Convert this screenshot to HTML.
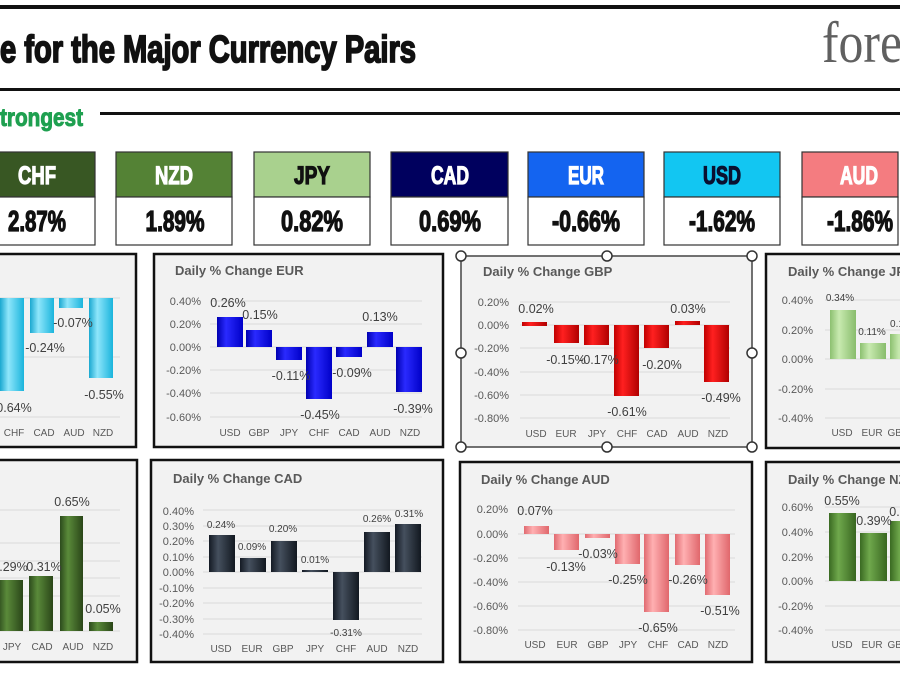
<!DOCTYPE html>
<html><head><meta charset="utf-8"><style>
html,body{margin:0;padding:0;background:#fff;width:900px;height:676px;overflow:hidden}
svg{display:block}
.t{font-family:"Liberation Sans",sans-serif;font-weight:bold;font-size:13px;fill:#595959}
.y{font-family:"Liberation Sans",sans-serif;font-size:11px;fill:#595959;text-anchor:end}
.x{font-family:"Liberation Sans",sans-serif;font-size:10px;fill:#595959;text-anchor:middle}
.l{font-family:"Liberation Sans",sans-serif;font-size:12.5px;fill:#404040;text-anchor:middle}
.s{font-family:"Liberation Sans",sans-serif;font-size:10px;fill:#404040;text-anchor:middle}
.h{font-family:"Liberation Sans Narrow","Liberation Sans",sans-serif;font-weight:bold;font-size:25px;text-anchor:middle;stroke-width:1.2}
.v{font-family:"Liberation Sans Narrow","Liberation Sans",sans-serif;font-weight:bold;font-size:29px;fill:#111;stroke:#111;stroke-width:1.3;text-anchor:middle}
.g{stroke:#d9d9d9;stroke-width:1}
.p{fill:#f2f2f2;stroke:#111;stroke-width:2.5}
.hd{fill:#fff;stroke:#333;stroke-width:1.5}
</style></head><body>
<svg width="900" height="676" viewBox="0 0 900 676" xmlns="http://www.w3.org/2000/svg">
<defs>
<linearGradient id="cy" x1="0" x2="1"><stop offset="0" stop-color="#1aa8d0"/><stop offset=".35" stop-color="#8ee6fb"/><stop offset="1" stop-color="#1ab4dc"/></linearGradient>
<linearGradient id="bl" x1="0" x2="1"><stop offset="0" stop-color="#0000b0"/><stop offset=".35" stop-color="#2a2aff"/><stop offset="1" stop-color="#0000c8"/></linearGradient>
<linearGradient id="rd" x1="0" x2="1"><stop offset="0" stop-color="#c00000"/><stop offset=".35" stop-color="#ff2020"/><stop offset="1" stop-color="#b00000"/></linearGradient>
<linearGradient id="lg" x1="0" x2="1"><stop offset="0" stop-color="#8cc070"/><stop offset=".35" stop-color="#c8eab0"/><stop offset="1" stop-color="#88bc6c"/></linearGradient>
<linearGradient id="dg" x1="0" x2="1"><stop offset="0" stop-color="#2c4a1c"/><stop offset=".35" stop-color="#5a8a3a"/><stop offset="1" stop-color="#2a4618"/></linearGradient>
<linearGradient id="nv" x1="0" x2="1"><stop offset="0" stop-color="#141a24"/><stop offset=".35" stop-color="#45505e"/><stop offset="1" stop-color="#121820"/></linearGradient>
<linearGradient id="pk" x1="0" x2="1"><stop offset="0" stop-color="#e06a70"/><stop offset=".35" stop-color="#ffb0b2"/><stop offset="1" stop-color="#e0676c"/></linearGradient>
<linearGradient id="mg" x1="0" x2="1"><stop offset="0" stop-color="#3a6a22"/><stop offset=".35" stop-color="#6fa84c"/><stop offset="1" stop-color="#386620"/></linearGradient>
</defs>

<!-- header -->
<rect x="0" y="5" width="900" height="4" fill="#111"/>
<rect x="0" y="88" width="900" height="3" fill="#111"/>
<text x="0" y="62" textLength="416" lengthAdjust="spacingAndGlyphs" style="font-family:'Liberation Sans Narrow','Liberation Sans',sans-serif;font-weight:bold;font-size:38px;fill:#111;stroke:#111;stroke-width:1.8">e for the Major Currency Pairs</text>
<text x="822" y="62" textLength="80" lengthAdjust="spacingAndGlyphs" style="font-family:'Liberation Serif',serif;font-size:58px;fill:#606060">fore</text>
<text x="0" y="126" textLength="83" lengthAdjust="spacingAndGlyphs" style="font-family:'Liberation Sans Narrow','Liberation Sans',sans-serif;font-weight:bold;font-size:25px;fill:#1fa050;stroke:#1fa050;stroke-width:1">trongest</text>
<rect x="100" y="112" width="800" height="3" fill="#111"/>

<!-- currency boxes -->
<g stroke="#333" stroke-width="1.2">
<rect x="-2" y="152" width="97" height="45" fill="#385723"/><rect x="-2" y="197" width="97" height="48" fill="#fff"/>
<rect x="116" y="152" width="116" height="45" fill="#548235"/><rect x="116" y="197" width="116" height="48" fill="#fff"/>
<rect x="254" y="152" width="116" height="45" fill="#a9d18e"/><rect x="254" y="197" width="116" height="48" fill="#fff"/>
<rect x="391" y="152" width="117" height="45" fill="#00005e"/><rect x="391" y="197" width="117" height="48" fill="#fff"/>
<rect x="528" y="152" width="116" height="45" fill="#1464f0"/><rect x="528" y="197" width="116" height="48" fill="#fff"/>
<rect x="664" y="152" width="116" height="45" fill="#12c6f2"/><rect x="664" y="197" width="116" height="48" fill="#fff"/>
<rect x="802" y="152" width="96" height="45" fill="#f47c80"/><rect x="802" y="197" width="96" height="48" fill="#fff"/>
</g>
<text class="h" x="37" y="184" textLength="38" lengthAdjust="spacingAndGlyphs" fill="#fff" stroke="#fff">CHF</text>
<text class="h" x="174" y="184" textLength="38" lengthAdjust="spacingAndGlyphs" fill="#fff" stroke="#fff">NZD</text>
<text class="h" x="312" y="184" textLength="36" lengthAdjust="spacingAndGlyphs" fill="#111" stroke="#111">JPY</text>
<text class="h" x="450" y="184" textLength="38" lengthAdjust="spacingAndGlyphs" fill="#fff" stroke="#fff">CAD</text>
<text class="h" x="586" y="184" textLength="36" lengthAdjust="spacingAndGlyphs" fill="#fff" stroke="#fff">EUR</text>
<text class="h" x="722" y="184" textLength="38" lengthAdjust="spacingAndGlyphs" fill="#0a1030" stroke="#0a1030">USD</text>
<text class="h" x="859" y="184" textLength="38" lengthAdjust="spacingAndGlyphs" fill="#fff" stroke="#fff">AUD</text>
<text class="v" x="37" y="231" textLength="58" lengthAdjust="spacingAndGlyphs">2.87%</text>
<text class="v" x="175" y="231" textLength="59" lengthAdjust="spacingAndGlyphs">1.89%</text>
<text class="v" x="312" y="231" textLength="62" lengthAdjust="spacingAndGlyphs">0.82%</text>
<text class="v" x="450" y="231" textLength="62" lengthAdjust="spacingAndGlyphs">0.69%</text>
<text class="v" x="586" y="231" textLength="68" lengthAdjust="spacingAndGlyphs">-0.66%</text>
<text class="v" x="722" y="231" textLength="66" lengthAdjust="spacingAndGlyphs">-1.62%</text>
<text class="v" x="860" y="231" textLength="66" lengthAdjust="spacingAndGlyphs">-1.86%</text>

<!-- Panel 1 (cyan) -->
<rect class="p" x="-3" y="254" width="139" height="193"/>
<line class="g" x1="0" y1="298" x2="120" y2="298"/><line class="g" x1="0" y1="357" x2="120" y2="357"/><line class="g" x1="0" y1="417" x2="120" y2="417"/>
<g fill="url(#cy)"><rect x="0" y="298" width="24" height="93"/><rect x="30" y="298" width="24" height="35"/><rect x="59" y="298" width="24" height="10"/><rect x="89" y="298" width="24" height="80"/></g>
<text class="l" x="14" y="412">0.64%</text><text class="l" x="45" y="352">-0.24%</text><text class="l" x="73" y="327">-0.07%</text><text class="l" x="104" y="399">-0.55%</text>
<text class="x" x="14" y="436">CHF</text><text class="x" x="44" y="436">CAD</text><text class="x" x="74" y="436">AUD</text><text class="x" x="103" y="436">NZD</text>

<!-- Panel EUR -->
<rect class="p" x="154" y="254" width="289" height="193"/>
<text class="t" x="175" y="275">Daily % Change EUR</text>
<g><line class="g" x1="210" y1="301" x2="422" y2="301"/><line class="g" x1="210" y1="324" x2="422" y2="324"/><line class="g" x1="210" y1="347" x2="422" y2="347"/><line class="g" x1="210" y1="370" x2="422" y2="370"/><line class="g" x1="210" y1="393" x2="422" y2="393"/><line class="g" x1="210" y1="417" x2="422" y2="417"/></g>
<text class="y" x="201" y="305">0.40%</text><text class="y" x="201" y="328">0.20%</text><text class="y" x="201" y="351">0.00%</text><text class="y" x="201" y="374">-0.20%</text><text class="y" x="201" y="397">-0.40%</text><text class="y" x="201" y="421">-0.60%</text>
<g fill="url(#bl)"><rect x="217" y="317" width="26" height="30"/><rect x="246" y="330" width="26" height="17"/><rect x="276" y="347" width="26" height="13"/><rect x="306" y="347" width="26" height="52"/><rect x="336" y="347" width="26" height="10"/><rect x="367" y="332" width="26" height="15"/><rect x="396" y="347" width="26" height="45"/></g>
<text class="l" x="228" y="307">0.26%</text><text class="l" x="260" y="319">0.15%</text><text class="l" x="291" y="380">-0.11%</text><text class="l" x="320" y="419">-0.45%</text><text class="l" x="352" y="377">-0.09%</text><text class="l" x="380" y="321">0.13%</text><text class="l" x="413" y="413">-0.39%</text>
<text class="x" x="230" y="436">USD</text><text class="x" x="259" y="436">GBP</text><text class="x" x="289" y="436">JPY</text><text class="x" x="319" y="436">CHF</text><text class="x" x="349" y="436">CAD</text><text class="x" x="380" y="436">AUD</text><text class="x" x="410" y="436">NZD</text>

<!-- Panel GBP (selected) -->
<rect x="461" y="256" width="291" height="191" fill="#f2f2f2" stroke="#444" stroke-width="1.5"/>
<text class="t" x="483" y="276">Daily % Change GBP</text>
<g><line class="g" x1="520" y1="302" x2="730" y2="302"/><line class="g" x1="520" y1="325" x2="730" y2="325"/><line class="g" x1="520" y1="348" x2="730" y2="348"/><line class="g" x1="520" y1="372" x2="730" y2="372"/><line class="g" x1="520" y1="395" x2="730" y2="395"/><line class="g" x1="520" y1="418" x2="730" y2="418"/></g>
<text class="y" x="509" y="306">0.20%</text><text class="y" x="509" y="329">0.00%</text><text class="y" x="509" y="352">-0.20%</text><text class="y" x="509" y="376">-0.40%</text><text class="y" x="509" y="399">-0.60%</text><text class="y" x="509" y="422">-0.80%</text>
<g fill="url(#rd)"><rect x="522" y="322" width="25" height="4"/><rect x="554" y="325" width="25" height="18"/><rect x="584" y="325" width="25" height="20"/><rect x="614" y="325" width="25" height="71"/><rect x="644" y="325" width="25" height="23"/><rect x="675" y="321" width="25" height="4"/><rect x="704" y="325" width="25" height="57"/></g>
<text class="l" x="536" y="313">0.02%</text><text class="l" x="566" y="364">-0.15%</text><text class="l" x="599" y="364">-0.17%</text><text class="l" x="627" y="416">-0.61%</text><text class="l" x="662" y="369">-0.20%</text><text class="l" x="688" y="313">0.03%</text><text class="l" x="721" y="402">-0.49%</text>
<text class="x" x="536" y="437">USD</text><text class="x" x="566" y="437">EUR</text><text class="x" x="597" y="437">JPY</text><text class="x" x="627" y="437">CHF</text><text class="x" x="657" y="437">CAD</text><text class="x" x="688" y="437">AUD</text><text class="x" x="718" y="437">NZD</text>
<g class="hd"><circle cx="461" cy="256" r="5"/><circle cx="607" cy="256" r="5"/><circle cx="752" cy="256" r="5"/><circle cx="461" cy="353" r="5"/><circle cx="752" cy="353" r="5"/><circle cx="461" cy="447" r="5"/><circle cx="607" cy="447" r="5"/><circle cx="752" cy="447" r="5"/></g>

<!-- Panel JPY -->
<rect class="p" x="766" y="254" width="140" height="194"/>
<text class="t" x="788" y="276">Daily % Change JPY</text>
<g><line class="g" x1="825" y1="300" x2="900" y2="300"/><line class="g" x1="825" y1="330" x2="900" y2="330"/><line class="g" x1="825" y1="359" x2="900" y2="359"/><line class="g" x1="825" y1="389" x2="900" y2="389"/><line class="g" x1="825" y1="418" x2="900" y2="418"/></g>
<text class="y" x="813" y="304">0.40%</text><text class="y" x="813" y="334">0.20%</text><text class="y" x="813" y="363">0.00%</text><text class="y" x="813" y="393">-0.20%</text><text class="y" x="813" y="422">-0.40%</text>
<g fill="url(#lg)"><rect x="830" y="310" width="26" height="49"/><rect x="860" y="343" width="26" height="16"/><rect x="890" y="334" width="26" height="25"/></g>
<text class="s" x="840" y="301">0.34%</text><text class="s" x="872" y="335">0.11%</text><text class="s" x="897" y="327">0.1</text>
<text class="x" x="842" y="436">USD</text><text class="x" x="872" y="436">EUR</text><text class="x" x="898" y="436">GBP</text>

<!-- Panel 5 (dark green) -->
<rect class="p" x="-3" y="460" width="140" height="202"/>
<g><line class="g" x1="0" y1="510" x2="120" y2="510"/><line class="g" x1="0" y1="543" x2="120" y2="543"/><line class="g" x1="0" y1="561" x2="120" y2="561"/><line class="g" x1="0" y1="578" x2="120" y2="578"/><line class="g" x1="0" y1="596" x2="120" y2="596"/><line class="g" x1="0" y1="631" x2="120" y2="631"/></g>
<g fill="url(#dg)"><rect x="-2" y="580" width="25" height="51"/><rect x="29" y="576" width="24" height="55"/><rect x="60" y="516" width="23" height="115"/><rect x="89" y="622" width="24" height="9"/></g>
<text class="l" x="10" y="571">0.29%</text><text class="l" x="44" y="571">0.31%</text><text class="l" x="72" y="506">0.65%</text><text class="l" x="103" y="613">0.05%</text>
<text class="x" x="12" y="650">JPY</text><text class="x" x="42" y="650">CAD</text><text class="x" x="73" y="650">AUD</text><text class="x" x="103" y="650">NZD</text>

<!-- Panel CAD -->
<rect class="p" x="151" y="460" width="292" height="202"/>
<text class="t" x="173" y="483">Daily % Change CAD</text>
<g><line class="g" x1="203" y1="510" x2="422" y2="510"/><line class="g" x1="203" y1="526" x2="422" y2="526"/><line class="g" x1="203" y1="541" x2="422" y2="541"/><line class="g" x1="203" y1="557" x2="422" y2="557"/><line class="g" x1="203" y1="572" x2="422" y2="572"/><line class="g" x1="203" y1="588" x2="422" y2="588"/><line class="g" x1="203" y1="603" x2="422" y2="603"/><line class="g" x1="203" y1="619" x2="422" y2="619"/><line class="g" x1="203" y1="634" x2="422" y2="634"/></g>
<text class="y" x="194" y="515">0.40%</text><text class="y" x="194" y="530">0.30%</text><text class="y" x="194" y="545">0.20%</text><text class="y" x="194" y="561">0.10%</text><text class="y" x="194" y="576">0.00%</text><text class="y" x="194" y="592">-0.10%</text><text class="y" x="194" y="607">-0.20%</text><text class="y" x="194" y="623">-0.30%</text><text class="y" x="194" y="638">-0.40%</text>
<g fill="url(#nv)"><rect x="209" y="535" width="26" height="37"/><rect x="240" y="558" width="26" height="14"/><rect x="271" y="541" width="26" height="31"/><rect x="302" y="570" width="26" height="2"/><rect x="333" y="572" width="26" height="48"/><rect x="364" y="532" width="26" height="40"/><rect x="395" y="524" width="26" height="48"/></g>
<text class="s" x="221" y="528">0.24%</text><text class="s" x="252" y="550">0.09%</text><text class="s" x="283" y="532">0.20%</text><text class="s" x="315" y="563">0.01%</text><text class="s" x="346" y="636">-0.31%</text><text class="s" x="377" y="522">0.26%</text><text class="s" x="409" y="517">0.31%</text>
<text class="x" x="221" y="652">USD</text><text class="x" x="252" y="652">EUR</text><text class="x" x="283" y="652">GBP</text><text class="x" x="315" y="652">JPY</text><text class="x" x="346" y="652">CHF</text><text class="x" x="377" y="652">AUD</text><text class="x" x="408" y="652">NZD</text>

<!-- Panel AUD -->
<rect class="p" x="460" y="462" width="292" height="200"/>
<text class="t" x="481" y="484">Daily % Change AUD</text>
<g><line class="g" x1="518" y1="510" x2="735" y2="510"/><line class="g" x1="518" y1="534" x2="735" y2="534"/><line class="g" x1="518" y1="558" x2="735" y2="558"/><line class="g" x1="518" y1="582" x2="735" y2="582"/><line class="g" x1="518" y1="606" x2="735" y2="606"/><line class="g" x1="518" y1="630" x2="735" y2="630"/></g>
<text class="y" x="508" y="513">0.20%</text><text class="y" x="508" y="538">0.00%</text><text class="y" x="508" y="562">-0.20%</text><text class="y" x="508" y="586">-0.40%</text><text class="y" x="508" y="610">-0.60%</text><text class="y" x="508" y="634">-0.80%</text>
<g fill="url(#pk)"><rect x="524" y="526" width="25" height="8"/><rect x="554" y="534" width="25" height="16"/><rect x="585" y="534" width="25" height="4"/><rect x="615" y="534" width="25" height="30"/><rect x="644" y="534" width="25" height="78"/><rect x="675" y="534" width="25" height="31"/><rect x="705" y="534" width="25" height="61"/></g>
<text class="l" x="535" y="515">0.07%</text><text class="l" x="566" y="571">-0.13%</text><text class="l" x="598" y="558">-0.03%</text><text class="l" x="628" y="584">-0.25%</text><text class="l" x="658" y="632">-0.65%</text><text class="l" x="688" y="584">-0.26%</text><text class="l" x="720" y="615">-0.51%</text>
<text class="x" x="535" y="648">USD</text><text class="x" x="567" y="648">EUR</text><text class="x" x="598" y="648">GBP</text><text class="x" x="628" y="648">JPY</text><text class="x" x="658" y="648">CHF</text><text class="x" x="688" y="648">CAD</text><text class="x" x="718" y="648">NZD</text>

<!-- Panel NZD -->
<rect class="p" x="766" y="462" width="140" height="200"/>
<text class="t" x="788" y="484">Daily % Change NZD</text>
<g><line class="g" x1="825" y1="507" x2="900" y2="507"/><line class="g" x1="825" y1="532" x2="900" y2="532"/><line class="g" x1="825" y1="557" x2="900" y2="557"/><line class="g" x1="825" y1="581" x2="900" y2="581"/><line class="g" x1="825" y1="606" x2="900" y2="606"/><line class="g" x1="825" y1="630" x2="900" y2="630"/></g>
<text class="y" x="813" y="511">0.60%</text><text class="y" x="813" y="536">0.40%</text><text class="y" x="813" y="561">0.20%</text><text class="y" x="813" y="585">0.00%</text><text class="y" x="813" y="610">-0.20%</text><text class="y" x="813" y="634">-0.40%</text>
<g fill="url(#mg)"><rect x="829" y="513" width="27" height="68"/><rect x="860" y="533" width="27" height="48"/><rect x="890" y="521" width="27" height="60"/></g>
<text class="l" x="842" y="505">0.55%</text><text class="l" x="874" y="525">0.39%</text><text class="l" x="898" y="516">0.4</text>
<text class="x" x="842" y="648">USD</text><text class="x" x="872" y="648">EUR</text><text class="x" x="898" y="648">GBP</text>
</svg>
</body></html>
